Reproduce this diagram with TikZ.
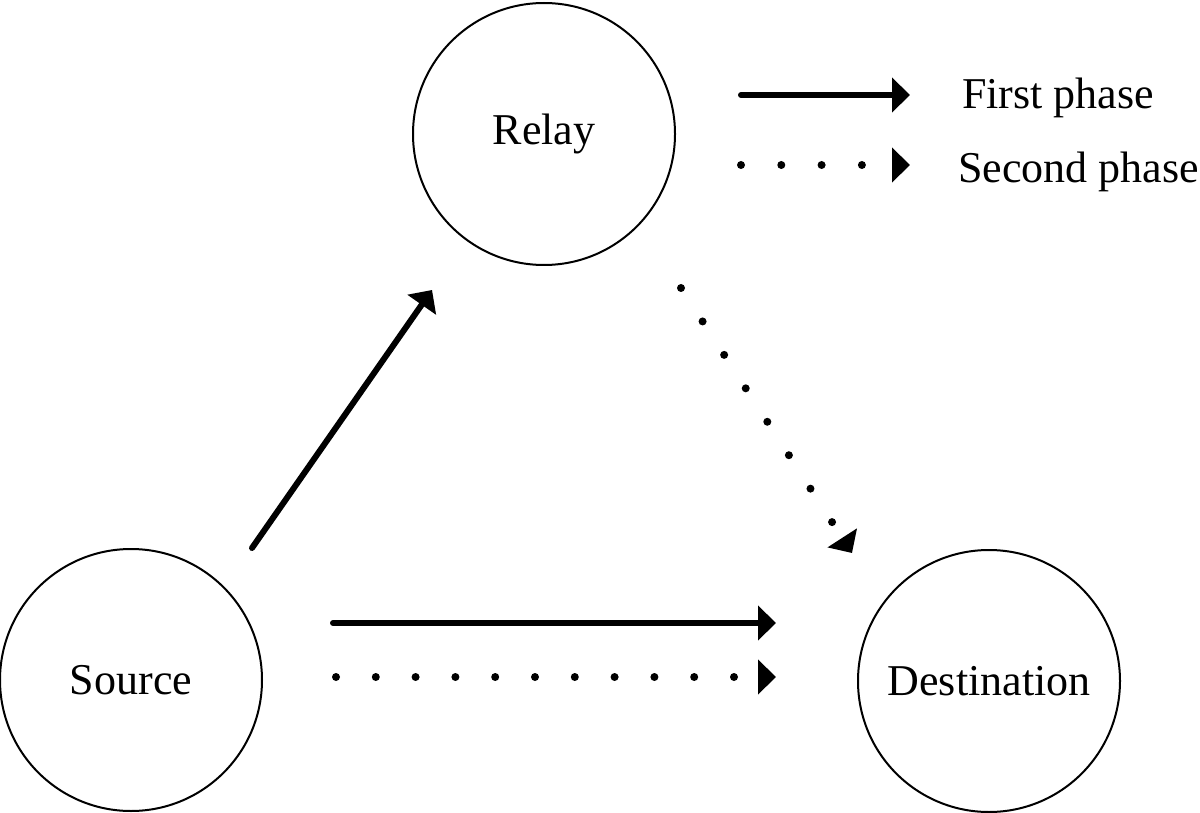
\documentclass[tikz,border=0pt]{standalone}
\usepackage{fontspec}
\setmainfont{Liberation Serif}
\usepackage{tikz}
\usetikzlibrary{arrows.meta}

\begin{document}
\begin{tikzpicture}[
  x=1pt, y=-1pt,
  terminal/.style={circle, draw=black, line width=2pt, minimum size=262pt,
                   inner sep=0pt, font=\fontsize{44}{50}\selectfont},
  legendtext/.style={anchor=base west, inner sep=0pt, font=\fontsize{44}{50}\selectfont},
  firstarrow/.style={line width=6pt, line cap=round, -{Triangle[length=18pt, width=34pt]}},
  secondarrow/.style={line width=8pt, line cap=round, dash pattern=on 0pt off 39.8pt,
                      -{Triangle[length=18pt, width=34pt]}}
]
\useasboundingbox (0,0) rectangle (1200,813);

\node[terminal] (relay) at (544,134) {Relay};
\node[terminal] (src) at (131,680) {Source};
\node[terminal] (dst) at (989,681) {Destination};

% arrow end points
\coordinate (srcup) at (252,548);
\coordinate (relaydown) at (432,290);
\coordinate (srcright) at (333,623);
\coordinate (dstleft) at (776,623);
\coordinate (srcright2) at (336,677);
\coordinate (dstleft2) at (776,677);
\coordinate (relayright) at (681,288);
\coordinate (dsttop) at (852,553);

\draw[firstarrow] (srcup) -- (relaydown);
\draw[firstarrow] (srcright) -- (dstleft);
\draw[secondarrow] (srcright2) -- (dstleft2);
\draw[secondarrow] (relayright) -- (dsttop);

% legend
\coordinate (leg1a) at (741,95);
\coordinate (leg1b) at (910,95);
\coordinate (leg2a) at (741,165);
\coordinate (leg2b) at (910,165);
\draw[firstarrow] (leg1a) -- (leg1b);
\draw[secondarrow, dash pattern=on 0pt off 40.3pt] (leg2a) -- (leg2b);
\node[legendtext] (firstlab) at (962,109) {First phase};
\node[legendtext] (secondlab) at (958,183) {Second phase};

\end{tikzpicture}
\end{document}
